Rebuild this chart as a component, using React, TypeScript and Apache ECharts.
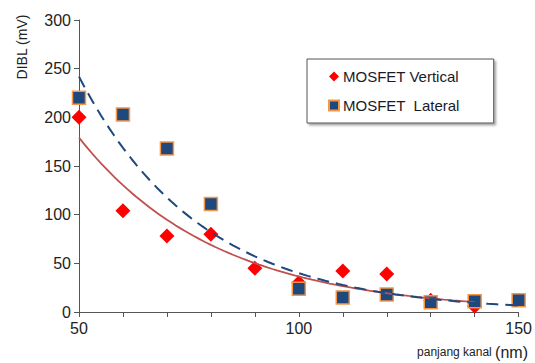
import React, { useEffect, useRef } from "react";
import * as echarts from "echarts";

const channelLength = [50, 60, 70, 80, 90, 100, 110, 120, 130, 140];
const verticalDibl = [200, 104, 78, 80, 45, 30, 42, 39, 12, 6];
const lateralLength = [50, 60, 70, 80, 100, 110, 120, 130, 140, 150];
const lateralDibl = [220, 203, 168, 111, 24, 15, 18, 10, 11, 12];
const yTicks = [0, 50, 100, 150, 200, 250, 300];
const xLabels = [50, 100, 150];

// Exponential least-squares trendline (as in a spreadsheet "exponential trendline")
function expFit(xs: number[], ys: number[]) {
  const n = xs.length;
  const ls = ys.map((v) => Math.log(v));
  const mx = xs.reduce((a, b) => a + b, 0) / n;
  const ml = ls.reduce((a, b) => a + b, 0) / n;
  let sxy = 0;
  let sxx = 0;
  for (let i = 0; i < n; i++) {
    sxy += (xs[i] - mx) * (ls[i] - ml);
    sxx += (xs[i] - mx) * (xs[i] - mx);
  }
  const b = sxy / sxx;
  const a = ml - b * mx;
  const lo = Math.min(...xs);
  const hi = Math.max(...xs);
  const pts: number[][] = [];
  for (let x = lo; x <= hi; x += 1) pts.push([x, Math.exp(a + b * x)]);
  return pts;
}

const FONT = "'Liberation Sans', Arial, sans-serif";

export default function App() {
  const ref = useRef<HTMLDivElement>(null);
  useEffect(() => {
    document.body.style.margin = "0";
    if (!ref.current) return;
    const chart = echarts.init(ref.current, null, { renderer: "svg" });
    const vPts = channelLength.map((x, i) => [x, verticalDibl[i]]);
    const lPts = lateralLength.map((x, i) => [x, lateralDibl[i]]);
    chart.setOption({
      animation: false,
      backgroundColor: "#ffffff",
      textStyle: { fontFamily: FONT },
      grid: { left: 79, right: 16, top: 20, bottom: 51, containLabel: false },
      legend: {
        left: 307,
        top: 59,
        orient: "vertical",
        padding: [10, 34, 10, 21],
        itemGap: 14,
        itemWidth: 10,
        itemHeight: 10,
        backgroundColor: "#ffffff",
        borderColor: "#555555",
        borderWidth: 1,
        shadowColor: "rgba(0,0,0,0.35)",
        shadowOffsetX: 2,
        shadowOffsetY: 2,
        shadowBlur: 2,
        textStyle: { fontSize: 15, color: "#1a1a2a", fontFamily: FONT, padding: [0, 0, 0, -1] },
        data: [
          { name: "MOSFET Vertical", icon: "diamond", itemStyle: { color: "#ff0000", opacity: 1 } },
          { name: "MOSFET  Lateral", icon: "rect", itemStyle: { opacity: 1 } },
        ],
      },
      xAxis: {
        type: "value",
        min: 50,
        max: 150,
        interval: 10,
        axisLine: { show: true, lineStyle: { color: "#555555", width: 1 } },
        axisTick: { show: true, length: 5, lineStyle: { color: "#555555" } },
        splitLine: { show: false },
        axisLabel: {
          fontSize: 16,
          color: "#222222",
          margin: 8,
          formatter: (v: number) => (xLabels.includes(v) ? String(v) : ""),
        },
      },
      yAxis: {
        type: "value",
        min: 0,
        max: 300,
        interval: 50,
        axisLine: { show: true, lineStyle: { color: "#555555", width: 1 } },
        axisTick: { show: true, length: 5, lineStyle: { color: "#555555" } },
        splitLine: { show: false },
        axisLabel: {
          fontSize: 16,
          color: "#222222",
          margin: 8,
          formatter: (v: number) => (yTicks.includes(v) ? String(v) : ""),
        },
      },
      graphic: [
        {
          type: "text",
          x: 22,
          y: 47,
          rotation: Math.PI / 2,
          style: {
            text: "DIBL (mV)",
            x: 0,
            y: 0,
            align: "center",
            verticalAlign: "middle",
            fontSize: 14,
            fontFamily: FONT,
            fill: "#222222",
          },
        },
        {
          type: "text",
          x: 528,
          y: 352,
          style: {
            text: "{a|panjang kanal }{b|(nm)}",
            x: 0,
            y: 0,
            align: "right",
            verticalAlign: "middle",
            rich: {
              a: { fontSize: 12, fontFamily: FONT, fill: "#222222", color: "#222222" },
              b: { fontSize: 16, fontFamily: FONT, fill: "#222222", color: "#222222" },
            },
          },
        },
      ],
      series: [
        {
          name: "MOSFET Vertical",
          type: "scatter",
          data: vPts,
          symbol: "diamond",
          symbolSize: 15,
          itemStyle: { color: "#ff0000", opacity: 1 },
          z: 2,
        },
        {
          name: "MOSFET  Lateral",
          type: "scatter",
          data: lPts,
          symbol: "rect",
          symbolSize: 13,
          itemStyle: { color: "#1f497d", borderColor: "#f79646", borderWidth: 1.5, opacity: 1 },
          z: 3,
        },
        {
          name: "trendV",
          type: "line",
          data: expFit(channelLength, verticalDibl),
          showSymbol: false,
          symbol: "none",
          lineStyle: { color: "#c0504d", width: 1.8 },
          z: 4,
          silent: true,
        },
        {
          name: "trendL",
          type: "line",
          data: expFit(lateralLength, lateralDibl),
          showSymbol: false,
          symbol: "none",
          lineStyle: { color: "#1f497d", width: 2, type: [12, 7] },
          z: 5,
          silent: true,
        },
      ],
    });
    return () => chart.dispose();
  }, []);
  return <div ref={ref} style={{ width: 535, height: 363 }} />;
}
